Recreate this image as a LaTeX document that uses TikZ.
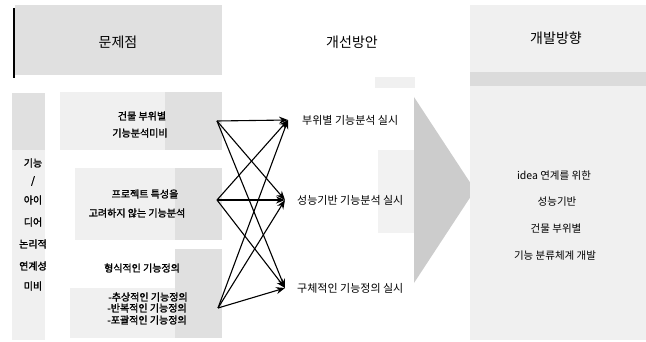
\documentclass[tikz,border=0pt]{standalone}
\usepackage{fontspec}
\setmainfont{Noto Sans CJK KR}[BoldFont=Noto Sans CJK KR,BoldFeatures={FakeBold=1.6}]
\usetikzlibrary{arrows.meta}
\tikzset{
  hdr/.style={font=\fontsize{14}{16}\selectfont, inner sep=0pt},
  bt/.style={font=\fontsize{10}{12}\selectfont\bfseries, inner sep=0pt},
  rt/.style={font=\fontsize{11}{13}\selectfont, inner sep=0pt},
  dt/.style={font=\fontsize{10.5}{12}\selectfont, inner sep=0pt},
  shade1/.style={fill=black!12, draw=none},
  shade2/.style={fill=black!6, draw=none},
  conn/.style={line width=1.1pt, -{Stealth[length=9pt,width=7pt]}},
}
\begin{document}
\begin{tikzpicture}[x=1pt,y=-1pt]
\useasboundingbox (0,0) rectangle (646,342);
% backgrounds
\path[shade1] (15,5) rectangle (222,75);
\draw[line width=1.6pt] (14,8) -- (14,78);
\path[shade2] (12,93) rectangle (45,340);
\path[shade1] (12,93) rectangle (45,150);
\path[shade2] (60,92) rectangle (165,150);
\path[shade1] (165,92) rectangle (222,150);
\path[shade2] (75,168) rectangle (175,240);
\path[shade1] (175,168) rectangle (222,240);
\path[shade2] (70,288) rectangle (175,338);
\path[shade1] (175,249) rectangle (222,338);
\path[shade2] (375,77) rectangle (415,88);
% big arrow
\path[fill=black!5] (378,150) rectangle (416,233);
\path[fill=black!20] (414,97) -- (475,190) -- (414,283) -- cycle;
% right region
\path[shade2] (470,5) rectangle (646,72);
\path[fill=black!14] (470,72) rectangle (646,86);
\path[shade2] (470,86) rectangle (646,340);
% headers
\node[hdr] (h1) at (118,42) {문제점};
\node[hdr] (h2) at (352,42) {개선방안};
\node[hdr] (h3) at (556,38) {개발방향};
% left column
\node[bt] (l1) at (33,163) {기능};
\node[bt] (l2) at (33,181) {/};
\node[bt] (l3) at (33,200) {아이};
\node[bt] (l4) at (33,222) {디어};
\node[bt] (l5) at (33,244) {논리적};
\node[bt] (l6) at (33,266) {연계성};
\node[bt] (l7) at (33,286) {미비};
% problems
\node[bt] (p1a) at (142,116) {건물 부위별};
\node[bt] (p1b) at (140,133) {기능분석미비};
\node[bt] (p2a) at (145,194) {프로젝트 특성을};
\node[bt] (p2b) at (137,213) {고려하지 않는 기능분석};
\node[bt] (p3a) at (142,268) {형식적인 기능정의};
\node[bt] (p3b) at (148,297) {-추상적인 기능정의};
\node[bt] (p3c) at (147,308) {-반복적인 기능정의};
\node[bt] (p3d) at (147,320) {-포괄적인 기능정의};
% solutions
\node[rt,anchor=west] (r1) at (302,120) {부위별 기능분석 실시};
\node[rt,anchor=west] (r2) at (297,200) {성능기반 기능분석 실시};
\node[rt,anchor=west] (r3) at (297,288) {구체적인 기능정의 실시};
% directions
\node[dt] (d1) at (554,176) {idea 연계를 위한};
\node[dt] (d2) at (557,202) {성능기반};
\node[dt] (d3) at (556,229) {건물 부위별};
\node[dt] (d4) at (555,256) {기능 분류체계 개발};
% connectors
\coordinate (s1) at (217,121);
\coordinate (s2) at (217,200);
\coordinate (s3) at (218,308);
\coordinate (t1) at (288,120);
\coordinate (t2) at (285,200);
\coordinate (t3) at (285,288);
\foreach \s in {s1,s2,s3}{
  \foreach \t in {t1,t2,t3}{
    \draw[conn] (\s) -- (\t);
  }
}
\end{tikzpicture}
\end{document}
